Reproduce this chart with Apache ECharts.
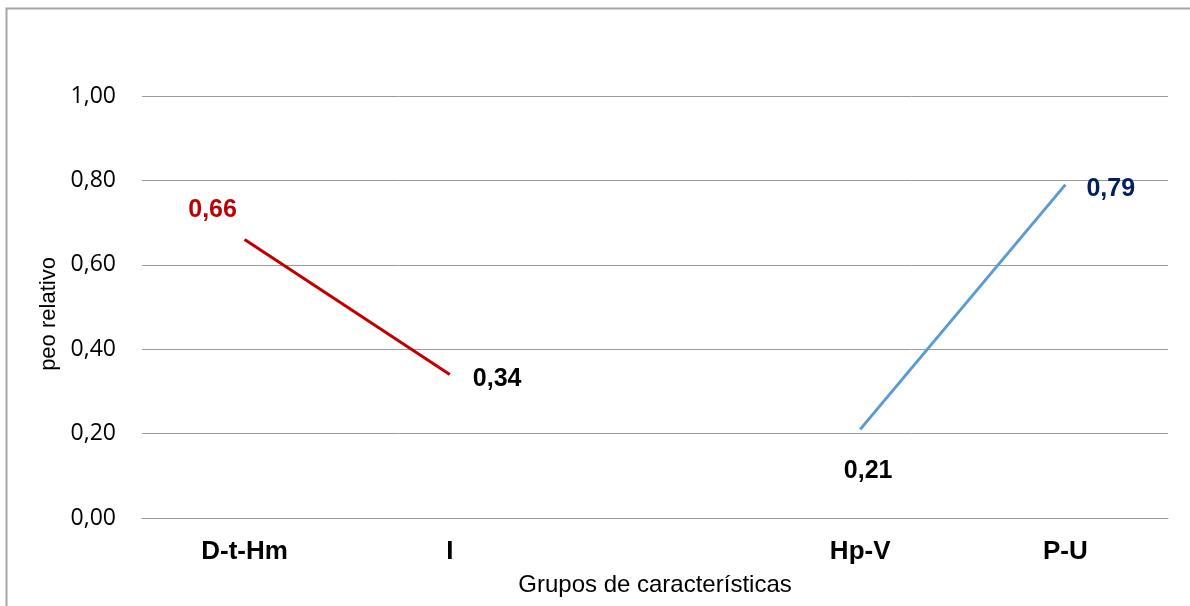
<!DOCTYPE html>
<html>
<head>
<meta charset="utf-8">
<script src="https://cdn.jsdelivr.net/npm/echarts@6/dist/echarts.min.js"></script>
<style>html,body{margin:0;padding:0;background:#fff}#c{width:1190px;height:606px}</style>
</head>
<body>
<div id="c"></div>
<script>
const categories = ['D-t-Hm', 'I', '', 'Hp-V', 'P-U'];
const seriesA = [0.66, 0.34, null, null, null];
const seriesB = [null, null, null, 0.21, 0.79];
const yTicks = [0, 0.2, 0.4, 0.6, 0.8, 1.0];

const fmt = v => v.toFixed(2).replace('.', ',');
const lab = (pos, color, off) => ({
  show: true, position: pos, distance: 5, offset: off, color: color,
  fontFamily: 'Liberation Sans, Arial', fontWeight: 'bold', fontSize: 25,
  formatter: p => fmt(p.value)
});

const dataA = seriesA.map((v, i) => {
  if (v === null) return null;
  if (i === 0) return { value: v, label: lab('top', '#C00000', [-32, -12]) };
  return { value: v, label: lab('right', '#000000', [18, 5]) };
});
const dataB = seriesB.map((v, i) => {
  if (v === null) return null;
  if (i === 3) return { value: v, label: lab('bottom', '#000000', [8, 24]) };
  return { value: v, label: lab('right', '#002060', [16, 4]) };
});

const chart = echarts.init(document.getElementById('c'), null, { renderer: 'canvas' });
chart.setOption({
  animation: false,
  backgroundColor: '#ffffff',
  graphic: [{
    type: 'rect', left: 4, top: 6, shape: { width: 1200, height: 620 },
    style: { fill: 'none', stroke: '#a6a6a6', lineWidth: 2 }, silent: true
  }],
  grid: { left: 142, right: 22, top: 96, bottom: 88 },
  xAxis: {
    type: 'category', data: categories, boundaryGap: true,
    name: 'Grupos de características', nameLocation: 'middle', nameGap: 55,
    nameTextStyle: { fontFamily: 'Liberation Sans, Arial', fontSize: 24, color: '#000' },
    axisLine: { show: true, lineStyle: { color: '#9a9a9a', width: 1 } },
    axisTick: { show: false },
    axisLabel: { margin: 21, fontFamily: 'Liberation Sans, Arial', fontWeight: 'bold', fontSize: 26, color: '#000' }
  },
  yAxis: {
    type: 'value', min: 0, max: 1.0, interval: 0.2,
    name: 'peo relativo', nameLocation: 'middle', nameGap: 79,
    nameTextStyle: { fontFamily: 'Liberation Sans, Arial', fontSize: 22, color: '#000', padding: [0, 14, 0, 0] },
    axisLine: { show: false }, axisTick: { show: false },
    axisLabel: { margin: 26, fontFamily: 'Open Sans, Liberation Sans', fontSize: 23, color: '#000',
      formatter: v => fmt(v) },
    splitLine: { lineStyle: { color: '#9a9a9a', width: 1 } }
  },
  series: [
    { type: 'line', data: dataA, connectNulls: false, showSymbol: true, symbol: 'circle', symbolSize: 0.01,
      lineStyle: { color: '#C00000', width: 3 }, itemStyle: { color: '#C00000' } },
    { type: 'line', data: dataB, connectNulls: false, showSymbol: true, symbol: 'circle', symbolSize: 0.01,
      lineStyle: { color: '#5B9BD5', width: 3 }, itemStyle: { color: '#5B9BD5' } }
  ]
});
</script>
</body>
</html>
